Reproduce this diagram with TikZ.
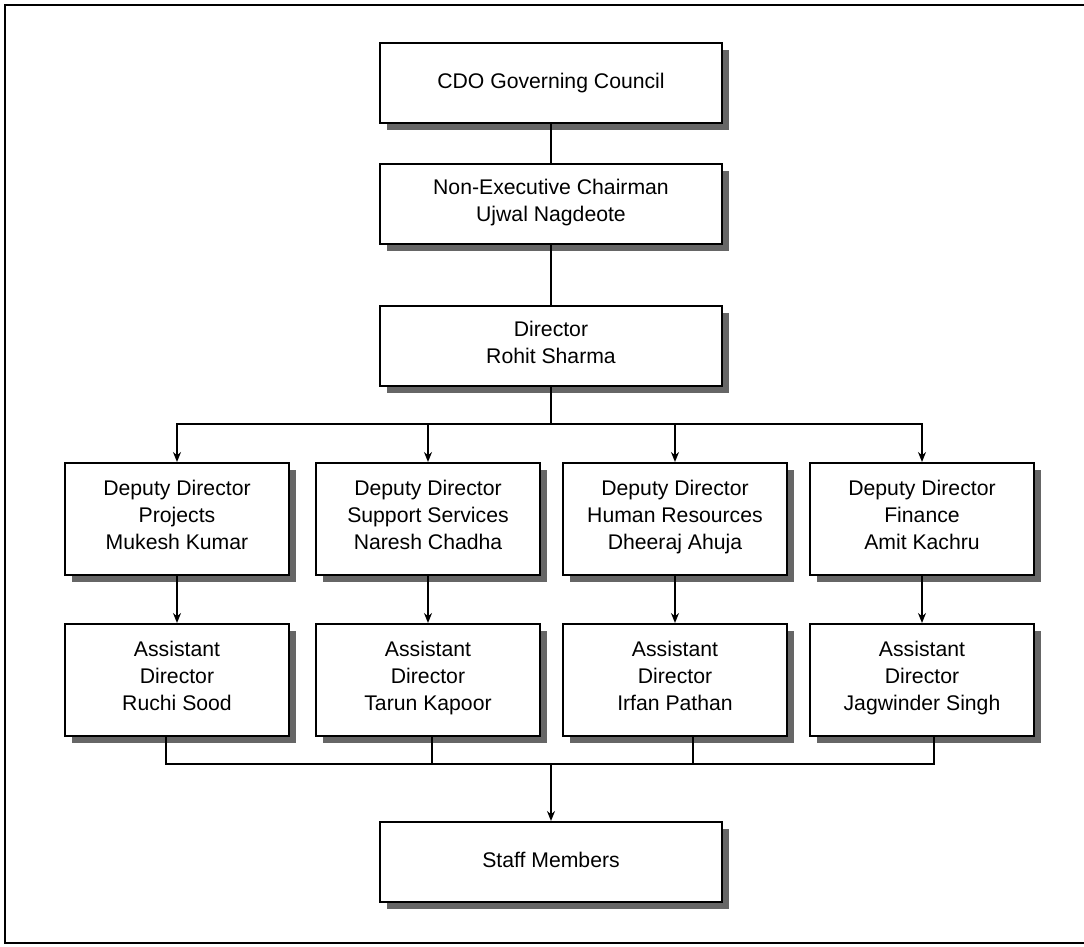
\documentclass[tikz,border=0pt]{standalone}
\usepackage{fontspec}
\setmainfont{Liberation Sans}
\usetikzlibrary{arrows.meta,shadows}
\tikzstyle{officeBox}=[shape = rectangle, draw, line width = 1pt, fill = white, align = center, inner sep = 2pt, font = \fontsize{10.6}{13.5}\selectfont, execute at begin node = \strut, execute at end node = \strut, drop shadow = {shadow xshift = 3.5pt, shadow yshift = -3.5pt, fill = black!60, opacity = 1}]
\tikzstyle{wideBox}=[officeBox, minimum width = 171pt, minimum height = 40pt]
\tikzstyle{deputyBox}=[officeBox, minimum width = 112pt, minimum height = 56pt]
\tikzstyle{linkStyle}=[line width = 0.8pt]
\tikzstyle{arrowStyle}=[linkStyle, -{Stealth[length = 5pt, width = 4pt]}]
\begin{document}
\begin{tikzpicture}[x = 0.5pt, y = -0.5pt]
\useasboundingbox (0,0) rectangle (1084,947);
% frame
\draw[line width = 1.3pt] (1084,5) -- (5,5) -- (5,943) -- (1084,943);
% top of the chart
\node[wideBox] (council) at (551,83) {CDO Governing Council};
\node[wideBox] (chairman) at (551,204) {Non-Executive Chairman\\Ujwal Nagdeote};
\node[wideBox] (director) at (551,346) {Director\\Rohit Sharma};
% deputies
\node[deputyBox] (dProjects) at (177,519) {Deputy Director\\Projects\\Mukesh Kumar};
\node[deputyBox] (dSupport) at (428,519) {Deputy Director\\Support Services\\Naresh Chadha};
\node[deputyBox] (dHuman) at (675,519) {Deputy Director\\Human Resources\\Dheeraj Ahuja};
\node[deputyBox] (dFinance) at (922,519) {Deputy Director\\Finance\\Amit Kachru};
% assistants
\node[deputyBox] (aProjects) at (177,680) {Assistant\\Director\\Ruchi Sood};
\node[deputyBox] (aSupport) at (428,680) {Assistant\\Director\\Tarun Kapoor};
\node[deputyBox] (aHuman) at (675,680) {Assistant\\Director\\Irfan Pathan};
\node[deputyBox] (aFinance) at (922,680) {Assistant\\Director\\Jagwinder Singh};
\node[wideBox] (staff) at (551,862) {Staff Members};
\coordinate (topBus) at (551,424);
\coordinate (lowBus) at (551,764);
\draw[linkStyle] (council) -- (chairman);
\draw[linkStyle] (chairman) -- (director);
\draw[linkStyle] (director) -- (topBus);
\foreach \n in {dProjects, dSupport, dHuman, dFinance}
  \draw[arrowStyle] (topBus) -| (\n.north);
\foreach \n/\m in {dProjects/aProjects, dSupport/aSupport, dHuman/aHuman, dFinance/aFinance}
  \draw[arrowStyle] (\n) -- (\m);
\foreach \m/\s in {aProjects/-5.5, aSupport/2, aHuman/9, aFinance/6}
  \draw[linkStyle] ([xshift = \s pt]\m.south) |- (lowBus);
\draw[arrowStyle] (lowBus) -- (staff);
\end{tikzpicture}
\end{document}
